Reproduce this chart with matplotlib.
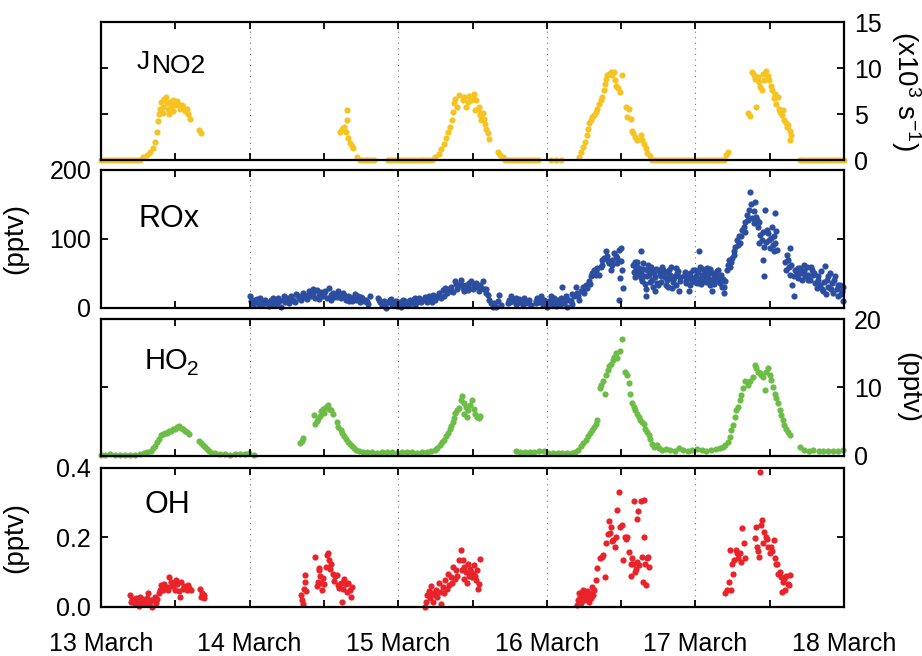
import numpy as np
import matplotlib
matplotlib.use('Agg')
from matplotlib import pyplot as plt

plt.rcParams['font.family'] = ['Liberation Sans', 'DejaVu Sans']
plt.rcParams['mathtext.fontset'] = 'custom'
plt.rcParams['mathtext.rm'] = 'Liberation Sans'
plt.rcParams['mathtext.it'] = 'Liberation Sans:italic'
plt.rcParams['mathtext.bf'] = 'Liberation Sans:bold'

# time axis is day of March (13.0 = 13 March 00:00)

# J(NO2) in 1e-3 s-1
j_day = [13.00, 13.02, 13.04, 13.06, 13.08, 13.10, 13.12, 13.14, 13.16, 13.18, 13.20, 13.22, 13.24, 13.26,
         13.286, 13.308, 13.330, 13.348, 13.364, 13.375, 13.382, 13.388, 13.397, 13.406, 13.415, 13.420, 13.426,
         13.437, 13.442, 13.453, 13.458, 13.464, 13.475, 13.482, 13.487, 13.498, 13.509, 13.520, 13.531, 13.542,
         13.554, 13.565, 13.576, 13.587, 13.598, 13.661, 13.670,
         14.611, 14.620, 14.636, 14.647, 14.654, 14.658, 14.665, 14.676, 14.687, 14.696,
         14.725, 14.74, 14.76, 14.78, 14.80, 14.82, 14.84,
         14.93, 14.95, 14.97, 14.99, 15.01, 15.03, 15.05, 15.07, 15.09, 15.11, 15.13, 15.15, 15.17, 15.19, 15.21, 15.23,
         15.250, 15.272, 15.290, 15.306, 15.321, 15.335, 15.348, 15.361, 15.366, 15.373, 15.384, 15.395, 15.406,
         15.434, 15.445, 15.456, 15.468, 15.479, 15.490, 15.501, 15.512, 15.517, 15.524, 15.535, 15.546, 15.553,
         15.557, 15.568, 15.575, 15.584, 15.593, 15.602, 15.613,
         15.669, 15.687, 15.702, 15.72, 15.74, 15.76, 15.78, 15.80, 15.82, 15.84, 15.86, 15.88, 15.90, 15.92, 15.94,
         16.027, 16.060, 16.094,
         16.217, 16.233, 16.246, 16.257, 16.268, 16.277, 16.284, 16.295, 16.306, 16.318, 16.329, 16.340, 16.351,
         16.362, 16.374, 16.385, 16.394, 16.400, 16.407, 16.418, 16.429, 16.441, 16.452, 16.459, 16.468, 16.479,
         16.492, 16.508, 16.530, 16.541, 16.553, 16.564, 16.570, 16.582, 16.595, 16.608, 16.631, 16.642, 16.653,
         16.664, 16.676, 16.691,
         16.71, 16.73, 16.75, 16.77, 16.79, 16.81, 16.83, 16.85, 16.87, 16.89, 16.91, 16.93, 16.95, 16.97, 16.99,
         17.01, 17.03, 17.05, 17.07, 17.09, 17.11, 17.13, 17.15, 17.17, 17.19, 17.208, 17.217,
         17.351, 17.365, 17.381, 17.392, 17.403, 17.410, 17.418, 17.429, 17.436, 17.447, 17.454, 17.463, 17.477,
         17.485, 17.496, 17.508, 17.517, 17.526, 17.535, 17.544, 17.553, 17.562, 17.571, 17.580, 17.589, 17.598,
         17.607, 17.616, 17.625, 17.634, 17.643, 17.639,
         17.70, 17.72, 17.74, 17.76, 17.78, 17.80, 17.82, 17.84, 17.86, 17.88, 17.90, 17.92, 17.94, 17.96, 17.98, 18.00]
j_val = [0, 0, 0, 0, 0, 0, 0, 0, 0, 0, 0, 0, 0, 0,
         0.3, 0.5, 0.9, 1.3, 2.0, 3.0, 4.2, 5.0, 5.6, 6.3, 5.1, 5.8, 6.6,
         6.9, 6.2, 5.6, 5.0, 6.3, 5.9, 5.3, 6.5, 6.0, 6.4, 6.1, 5.5, 6.0,
         5.8, 5.3, 5.6, 5.0, 4.5, 3.3, 2.9,
         3.1, 3.4, 3.6, 3.0, 5.4, 4.3, 2.4, 1.9, 1.5, 1.3,
         0.3, 0, 0, 0, 0, 0, 0,
         0, 0, 0, 0, 0, 0, 0, 0, 0, 0, 0, 0, 0, 0, 0, 0,
         0.3, 0.7, 1.2, 1.8, 2.4, 3.0, 3.6, 4.3, 5.2, 6.2, 6.6, 5.8, 7.1,
         6.5, 6.9, 5.8, 6.3, 7.0, 6.5, 6.9, 7.2, 5.4, 6.5, 5.4, 5.8, 4.9,
         4.3, 5.1, 4.5, 3.9, 3.4, 2.9, 2.3,
         0.9, 0.6, 0.3, 0, 0, 0, 0, 0, 0, 0, 0, 0, 0, 0, 0,
         0, 0, 0,
         0.35, 0.9, 1.4, 2.0, 2.7, 3.4, 4.0, 4.3, 4.7, 4.9, 5.2, 5.6, 6.1,
         6.5, 6.9, 7.6, 8.3, 8.8, 9.2, 9.4, 9.6, 9.2, 9.6, 8.7, 8.1, 7.8,
         7.4, 9.2, 5.8, 4.7, 5.5, 4.5, 3.2, 2.9, 2.5, 2.2, 2.7, 2.2, 1.7,
         1.3, 0.8, 0.4,
         0, 0, 0, 0, 0, 0, 0, 0, 0, 0, 0, 0, 0, 0, 0,
         0, 0, 0, 0, 0, 0, 0, 0, 0, 0, 0.6, 0.9,
         5.1, 4.8, 9.6, 9.2, 8.8, 5.8, 9.0, 8.5, 7.9, 7.6, 9.4, 8.7, 9.7,
         9.1, 8.7, 8.1, 7.6, 6.7, 7.2, 6.1, 6.9, 5.6, 5.2, 4.9, 5.4, 4.3,
         4.0, 3.6, 3.8, 3.2, 2.7, 2.2,
         0, 0, 0, 0, 0, 0, 0, 0, 0, 0, 0, 0, 0, 0, 0, 0]

# ROx in pptv
rox_day = [14.004, 14.011, 14.022, 14.036, 14.049, 14.062, 14.076, 14.089, 14.103, 14.116, 14.129, 14.143, 14.156,
           14.170, 14.183, 14.196, 14.210, 14.223, 14.237, 14.250, 14.263, 14.277, 14.290, 14.304, 14.317, 14.330,
           14.344, 14.357, 14.371, 14.384, 14.397, 14.411, 14.424, 14.437, 14.451, 14.464, 14.478, 14.491, 14.504,
           14.518, 14.531, 14.545, 14.558, 14.571, 14.585, 14.598, 14.612, 14.625, 14.638, 14.652, 14.665, 14.678,
           14.692, 14.705, 14.719, 14.732, 14.745, 14.759, 14.772, 14.786, 14.799, 14.812,
           14.861, 14.875, 14.888, 14.902, 14.915, 14.928, 14.942, 14.955, 14.969, 14.982, 14.995, 15.009, 15.022,
           15.036, 15.049, 15.062, 15.076, 15.089, 15.103, 15.116, 15.129, 15.143, 15.156, 15.170, 15.183, 15.196,
           15.210, 15.223, 15.237, 15.250, 15.263, 15.277, 15.290, 15.304, 15.317, 15.330, 15.344, 15.357, 15.370,
           15.384, 15.397, 15.411,
           15.423, 15.434, 15.445, 15.456, 15.468, 15.479, 15.490, 15.501, 15.512, 15.524, 15.535, 15.546, 15.557,
           15.568, 15.580, 15.591, 15.602, 15.613, 15.624, 15.635, 15.647, 15.658, 15.669, 15.680, 15.691,
           15.736, 15.747, 15.758, 15.770, 15.781, 15.792, 15.803, 15.814, 15.825, 15.837, 15.848, 15.859, 15.870,
           15.881, 15.892,
           15.926, 15.937, 15.949, 15.960, 15.971, 15.982, 15.993, 16.004, 16.016, 16.027, 16.038, 16.049, 16.060,
           16.072, 16.083, 16.094, 16.105, 16.116, 16.128, 16.139, 16.150, 16.161, 16.172, 16.184, 16.195, 16.206,
           16.217, 16.228, 16.240, 16.251, 16.262, 16.273, 16.284, 16.295, 16.306, 16.318, 16.329, 16.340, 16.351,
           16.362, 16.374, 16.385, 16.396, 16.407, 16.418, 16.429, 16.441, 16.452, 16.463, 16.474, 16.486, 16.497,
           16.503, 16.492, 16.514, 16.486,
           16.582, 16.591, 16.600, 16.608, 16.617, 16.631, 16.631, 16.642, 16.649, 16.653, 16.664, 16.667, 16.676,
           16.687, 16.698, 16.709, 16.720, 16.731, 16.743, 16.754, 16.765, 16.776, 16.787, 16.799, 16.810, 16.821,
           16.832, 16.843, 16.855, 16.866, 16.877, 16.888, 16.899,
           16.922, 16.933, 16.944, 16.955, 16.966, 16.978, 16.989, 17.000, 17.011, 17.022, 17.033, 17.045, 17.056,
           17.067, 17.078, 17.089, 17.101, 17.112, 17.123, 17.134, 17.145, 17.157, 17.168, 17.179, 17.190, 17.201,
           17.212, 17.224, 17.235, 17.246, 17.257, 17.268, 17.280, 17.291, 17.302, 17.313, 17.324, 17.336, 17.347,
           17.358, 17.369, 17.380, 17.391, 17.403, 17.414, 17.421, 17.425, 17.436, 17.447, 17.454, 17.458, 17.463,
           17.470, 17.481, 17.492, 17.503, 17.515, 17.526, 17.537, 17.537, 17.548,
           17.604, 17.615, 17.626, 17.637, 17.637, 17.649, 17.660, 17.671, 17.682, 17.693, 17.704, 17.716, 17.727,
           17.738, 17.749, 17.760, 17.772, 17.783, 17.794, 17.805, 17.816, 17.827, 17.839, 17.850, 17.861, 17.872,
           17.883, 17.894, 17.906, 17.917, 17.928, 17.939, 17.950, 17.961, 17.973, 17.984, 17.995]
rox_val = [17, 10, 5, 8, 13, 4, 9, 6, 12, 7, 3, 11, 14,
           8, 5, 10, 2, 12, 9, 15, 7, 17, 12, 9, 19, 14,
           11, 22, 16, 13, 24, 18, 21, 15, 26, 19, 23, 17, 21,
           14, 29, 19, 22, 16, 20, 24, 14, 18, 19, 12, 17, 16,
           10, 15, 12, 18, 8, 14, 10, 12, 6, 17,
           15, 8, 5, 10, 0, 9, 12, 4, 7, 10, 3, 8, 2,
           6, 10, 4, 12, 7, 13, 5, 9, 14, 8, 11, 16, 9,
           17, 13, 19, 11, 16, 22, 15, 26, 29, 21, 27, 31, 23,
           39, 28, 33,
           41, 29, 24, 34, 31, 36, 39, 27, 34, 36, 31, 24, 29,
           39, 27, 22, 19, 12, 7, 2, 7, 2, 10, 19, 5,
           7, 12, 17, 10, 12, 6, 7, 13, 10, 5, 14, 8, 7,
           12, 5,
           7, 14, 9, 17, 5, 12, 7, 2, 10, 17, 6, 10, 3,
           12, 8, 14, 31, 7, 18, 2, 12, 10, 20, 17, 31, 22,
           12, 24, 31, 27, 34, 29, 39, 46, 51, 55, 53, 58, 48,
           60, 70, 72, 82, 75, 65, 55, 70, 80, 75, 65, 84, 87,
           55, 43, 29, 12,
           63, 67, 58, 60, 55, 82, 51, 39, 65, 46, 27, 17, 55,
           48, 60, 41, 51, 24, 36, 55, 46, 60, 51, 34, 41, 55,
           48, 29, 43, 58, 51, 24, 39,
           46, 36, 43, 24, 51, 41, 41, 55, 36, 83, 60, 48, 41,
           53, 58, 51, 34, 24, 46, 39, 53, 43, 41, 31, 22, 39,
           55, 70, 60, 72, 77, 89, 99, 104, 94, 113, 118, 125, 135,
           142, 168, 130, 123, 154, 128, 118, 94, 106, 99, 70, 89, 47,
           142, 113, 99, 87, 118, 104, 138, 94, 84,
           67, 77, 60, 87, 48, 34, 18, 55, 51, 43, 58, 41, 53,
           46, 60, 48, 41, 55, 48, 36, 29, 46, 34, 27, 24, 61,
           41, 31, 51, 36, 22, 46, 27, 17, 34, 24, 10]
# second pass of ROx points read in between the ones above
rox_day2 = [14.030, 14.070, 14.110, 14.150, 14.190, 14.230, 14.270, 14.310, 14.350, 14.390, 14.430, 14.470, 14.510,
            14.550, 14.590, 14.630, 14.670, 14.710, 14.750, 14.790, 14.870, 14.910, 14.950, 14.990, 15.030, 15.070,
            15.110, 15.150, 15.190, 15.230, 15.270, 15.310, 15.350, 15.390, 15.430, 15.470, 15.510, 15.550, 15.590,
            15.750, 15.790, 15.830, 15.930, 15.970, 16.010, 16.050, 16.090, 16.130, 16.170, 16.210, 16.250, 16.290,
            16.330, 16.370, 16.410, 16.440, 16.470, 16.500,
            16.586, 16.595, 16.604, 16.613, 16.622, 16.636, 16.645, 16.658, 16.671, 16.680, 16.692, 16.703, 16.714,
            16.725, 16.737, 16.748, 16.759, 16.770, 16.781, 16.793, 16.804, 16.815, 16.826, 16.837, 16.849, 16.860,
            16.871, 16.882, 16.893,
            16.927, 16.938, 16.950, 16.961, 16.972, 16.983, 16.995, 17.006, 17.017, 17.028, 17.039, 17.050, 17.061,
            17.072, 17.084, 17.095, 17.106, 17.117, 17.128, 17.140, 17.151, 17.162, 17.173, 17.184, 17.195,
            17.218, 17.240, 17.262, 17.285, 17.307, 17.330, 17.352, 17.375, 17.397, 17.408, 17.430, 17.452, 17.475,
            17.487, 17.509, 17.520, 17.531, 17.543,
            17.610, 17.621, 17.643, 17.666, 17.688, 17.710, 17.733, 17.755, 17.777, 17.800, 17.822, 17.845, 17.867,
            17.878, 17.889, 17.911, 17.934, 17.956, 17.978, 17.990]
rox_val2 = [12, 15, 9, 6, 14, 18, 10, 20, 17, 19, 27, 13, 25,
            12, 16, 22, 10, 20, 16, 9, 12, 6, 13, 8, 11, 6,
            15, 10, 12, 8, 18, 18, 25, 35, 34, 26, 31, 33, 28,
            8, 14, 9, 10, 11, 8, 14, 5, 11, 6, 18, 22, 35,
            48, 62, 68, 62, 72, 68,
            52, 45, 66, 49, 58, 44, 57, 35, 47, 62, 38, 53, 30,
            45, 57, 33, 49, 38, 55, 45, 52, 31, 44, 60, 37, 46,
            34, 54, 45,
            52, 39, 48, 33, 45, 55, 38, 47, 52, 42, 35, 56, 46,
            38, 44, 57, 40, 50, 35, 47, 55, 36, 48, 42, 30,
            62, 66, 82, 92, 105, 110, 128, 150, 140, 132, 125, 110, 95,
            108, 101, 92, 82, 112,
            55, 70, 62, 47, 58, 50, 62, 40, 60, 50, 40, 54, 38,
            20, 47, 28, 40, 33, 20, 30]

# HO2 in pptv
ho2_day = [13.000, 13.029, 13.062, 13.096, 13.129, 13.163, 13.196, 13.230, 13.263, 13.290, 13.312, 13.335, 13.353,
           13.366, 13.379, 13.393, 13.406, 13.420, 13.433, 13.446, 13.460, 13.473, 13.487, 13.500, 13.513, 13.527,
           13.540, 13.554, 13.567, 13.580, 13.594,
           13.661, 13.674, 13.687, 13.701, 13.714, 13.727, 13.745, 13.766, 13.799, 13.833, 13.866, 13.900, 13.933,
           13.966, 13.995, 14.027,
           14.341, 14.350, 14.359, 14.435, 14.442, 14.451, 14.462, 14.473, 14.482, 14.491, 14.502, 14.513, 14.525,
           14.536, 14.547, 14.558,
           14.585, 14.598, 14.612, 14.625, 14.638, 14.652, 14.665, 14.678, 14.692, 14.705, 14.719, 14.737, 14.763,
           14.792, 14.826, 14.859, 14.893, 14.926, 14.960, 14.993, 15.027, 15.060, 15.094, 15.127, 15.161, 15.194,
           15.223, 15.246, 15.263, 15.281, 15.295, 15.308, 15.321, 15.335, 15.348, 15.357, 15.366, 15.375, 15.384,
           15.395, 15.406,
           15.423, 15.432, 15.441, 15.445, 15.454, 15.463, 15.472, 15.485, 15.499, 15.508, 15.519, 15.530, 15.541,
           15.553,
           15.792, 15.821, 15.852, 15.884, 15.915, 15.946, 15.978, 16.009, 16.040, 16.072, 16.103, 16.134, 16.166,
           16.192, 16.210, 16.228, 16.246, 16.262, 16.277, 16.291, 16.304, 16.318, 16.329, 16.340, 16.358, 16.367,
           16.380, 16.391, 16.400, 16.409, 16.421, 16.432, 16.443, 16.454, 16.465, 16.474, 16.490, 16.508, 16.528,
           16.539, 16.550, 16.561, 16.573, 16.584, 16.595, 16.606, 16.617, 16.629, 16.640, 16.651, 16.662, 16.673,
           16.685, 16.696, 16.707, 16.720, 16.738, 16.756, 16.778, 16.805, 16.832, 16.859, 16.888, 16.917, 16.948,
           16.980, 17.011, 17.042, 17.074, 17.105, 17.136, 17.163, 17.186, 17.201, 17.217, 17.230, 17.241, 17.253,
           17.264, 17.275, 17.286, 17.298, 17.309, 17.320, 17.331, 17.351, 17.369, 17.385, 17.398, 17.409, 17.420,
           17.432, 17.443, 17.454, 17.465, 17.476, 17.488, 17.499, 17.510, 17.521, 17.532, 17.544, 17.555, 17.566,
           17.577, 17.588, 17.599, 17.611, 17.622, 17.633,
           17.705, 17.727, 17.761, 17.794, 17.828, 17.861, 17.895, 17.928, 17.962, 17.995]
ho2_val = [0.1, 0.2, 0.25, 0.2, 0.1, 0.15, 0.1, 0.2, 0.3, 0.4, 0.6, 0.8, 1.1,
           1.5, 2.0, 2.5, 3.0, 3.2, 3.3, 3.4, 3.6, 3.7, 3.9, 4.0, 4.2, 4.4,
           4.1, 3.9, 3.7, 3.5, 3.2,
           2.2, 1.9, 1.6, 1.3, 1.0, 0.8, 0.5, 0.4, 0.3, 0.25, 0.2, 0.3, 0.25,
           0.3, 0.4, 0.2,
           1.9, 2.2, 2.6, 6.0, 4.6, 5.1, 5.4, 5.8, 6.5, 6.8, 6.3, 7.1, 7.4,
           6.9, 6.7, 6.2,
           4.9, 4.3, 3.8, 3.3, 2.9, 2.5, 2.1, 1.7, 1.4, 1.1, 0.9, 0.7, 0.6,
           0.55, 0.6, 0.5, 0.6, 0.55, 0.6, 0.5, 0.6, 0.55, 0.6, 0.5, 0.55, 0.6,
           0.7, 0.9, 1.2, 1.6, 2.0, 2.4, 2.9, 3.3, 3.9, 4.4, 4.9, 5.5, 6.3,
           6.7, 7.0,
           8.2, 8.7, 7.7, 6.2, 7.2, 5.7, 6.7, 7.4, 8.2, 6.9, 6.2, 5.7, 5.5,
           5.9,
           0.8, 0.6, 0.6, 0.55, 0.65, 0.7, 0.7, 0.5, 0.4, 0.4, 0.45, 0.4, 0.5,
           0.6, 0.9, 1.4, 1.9, 2.4, 2.9, 3.3, 3.8, 4.2, 4.6, 5.2, 9.9, 10.4,
           10.9, 9.1, 11.8, 12.6, 13.1, 13.5, 14.0, 14.5, 15.0, 14.3, 15.3, 17.1, 12.3,
           11.8, 10.6, 9.1, 7.7, 7.2, 6.7, 6.2, 5.7, 5.2, 5.0, 4.7, 4.0, 3.5,
           3.0, 2.5, 1.8, 1.3, 1.6, 1.1, 0.9, 1.0, 0.9, 0.8, 1.2, 0.9, 0.8,
           0.9, 1.0, 0.9, 0.8, 0.9, 1.0, 1.1, 1.3, 1.6, 2.1, 2.8, 3.8, 4.5,
           5.7, 6.7, 7.2, 8.2, 8.9, 9.9, 10.9, 10.4, 11.0, 11.6, 13.3, 12.8, 12.3,
           12.1, 11.8, 11.6, 9.6, 12.3, 12.8, 11.8, 11.1, 10.1, 9.1, 8.4, 7.7, 6.7,
           6.0, 5.2, 4.5, 4.0, 3.5, 3.0,
           1.3, 0.9, 0.8, 0.9, 0.7, 0.8, 0.7, 0.8, 0.7, 0.9]

# OH in pptv
oh_day = [13.196, 13.203, 13.210, 13.219, 13.228, 13.237, 13.246, 13.254, 13.263, 13.272, 13.281, 13.290, 13.299,
          13.308, 13.317, 13.326, 13.335, 13.344, 13.353, 13.362, 13.371, 13.379,
          13.388, 13.397, 13.406, 13.415, 13.424, 13.433, 13.442, 13.451, 13.460, 13.469, 13.478, 13.487, 13.496,
          13.504, 13.513, 13.522, 13.531, 13.540, 13.549, 13.558, 13.567, 13.576, 13.585, 13.594, 13.603,
          13.665, 13.672, 13.681, 13.690, 13.696,
          14.346, 14.353, 14.359, 14.366, 14.371, 14.375, 14.382, 14.442, 14.451, 14.457, 14.464, 14.469, 14.476,
          14.482, 14.489, 14.496, 14.504, 14.513, 14.520, 14.527, 14.534, 14.543, 14.549, 14.558, 14.567, 14.576,
          14.585, 14.594, 14.603, 14.612, 14.620, 14.629, 14.638, 14.647, 14.656, 14.665, 14.674, 14.683, 14.692,
          15.183, 15.190, 15.196, 15.205, 15.212, 15.221, 15.228, 15.237, 15.246, 15.254, 15.263, 15.272, 15.281,
          15.290, 15.299, 15.308, 15.317, 15.326, 15.335, 15.344, 15.353, 15.362, 15.370, 15.379, 15.388, 15.397,
          15.406, 15.423, 15.427, 15.434, 15.441, 15.445, 15.454, 15.461, 15.468, 15.474, 15.481, 15.490, 15.497,
          15.501, 15.508, 15.515, 15.521, 15.528, 15.535, 15.541, 15.548,
          16.206, 16.212, 16.219, 16.226, 16.233, 16.239, 16.246, 16.253, 16.259, 16.266, 16.273, 16.280, 16.286,
          16.293, 16.300, 16.306, 16.313, 16.320, 16.329, 16.340, 16.358, 16.369, 16.380, 16.389, 16.400, 16.409,
          16.416, 16.425, 16.434, 16.441, 16.447, 16.456, 16.463, 16.472, 16.483, 16.492, 16.503, 16.514, 16.523,
          16.532, 16.541, 16.553, 16.564, 16.568, 16.575, 16.582, 16.586, 16.591, 16.598, 16.604, 16.608, 16.615,
          16.622, 16.631, 16.638, 16.645, 16.651, 16.653, 16.660, 16.669, 16.676, 16.682, 16.689,
          17.201, 17.212, 17.224, 17.230, 17.239, 17.246, 17.253, 17.262, 17.271, 17.280, 17.289, 17.298, 17.307,
          17.315, 17.324, 17.331, 17.400, 17.407, 17.414, 17.421, 17.427, 17.436, 17.441, 17.447, 17.454, 17.463,
          17.472, 17.481, 17.490, 17.499, 17.508, 17.517, 17.526, 17.532, 17.539, 17.548, 17.557, 17.566, 17.575,
          17.582, 17.588, 17.597, 17.604, 17.611, 17.620, 17.629, 17.637]
oh_val = [0.034, 0.015, 0.024, 0.020, 0.008, 0.025, 0.012, 0.004, 0.029, 0.015, 0.022, 0.010, 0.018,
          0.027, 0.039, 0.009, 0.020, 0.000, 0.020, 0.030, 0.012, 0.024,
          0.039, 0.048, 0.063, 0.050, 0.067, 0.055, 0.058, 0.048, 0.087, 0.072, 0.060, 0.062, 0.050,
          0.077, 0.067, 0.045, 0.029, 0.072, 0.052, 0.060, 0.055, 0.048, 0.062, 0.055, 0.050,
          0.053, 0.029, 0.039, 0.025, 0.034,
          0.034, 0.019, 0.010, 0.053, 0.072, 0.092, 0.045, 0.145, 0.060, 0.072, 0.106, 0.111, 0.090,
          0.070, 0.050, 0.082, 0.065, 0.116, 0.150, 0.154, 0.135, 0.110, 0.125, 0.096, 0.075, 0.090,
          0.092, 0.063, 0.055, 0.070, 0.014, 0.053, 0.080, 0.065, 0.043, 0.068, 0.050, 0.029, 0.058,
          0.000, 0.015, 0.035, 0.045, 0.025, 0.060, 0.040, 0.015, 0.035, 0.048, 0.030, 0.068, 0.043,
          0.010, 0.058, 0.040, 0.077, 0.052, 0.096, 0.062, 0.085, 0.070, 0.116, 0.080, 0.105, 0.090,
          0.135, 0.164, 0.106, 0.135, 0.080, 0.115, 0.100, 0.070, 0.125, 0.090, 0.110, 0.100, 0.085,
          0.096, 0.120, 0.090, 0.077, 0.105, 0.053, 0.065, 0.137,
          0.005, 0.020, 0.040, 0.028, 0.012, 0.035, 0.050, 0.020, 0.038, 0.025, 0.045, 0.030, 0.015,
          0.040, 0.025, 0.058, 0.035, 0.050, 0.077, 0.111, 0.140, 0.145, 0.149, 0.087, 0.183, 0.210,
          0.246, 0.212, 0.231, 0.190, 0.193, 0.173, 0.200, 0.278, 0.331, 0.230, 0.236, 0.135, 0.202,
          0.195, 0.200, 0.159, 0.125, 0.090, 0.140, 0.125, 0.304, 0.100, 0.110, 0.253, 0.130, 0.275,
          0.120, 0.304, 0.145, 0.072, 0.308, 0.200, 0.125, 0.063, 0.140, 0.145, 0.115,
          0.039, 0.048, 0.072, 0.164, 0.048, 0.125, 0.096, 0.135, 0.165, 0.155, 0.140, 0.154, 0.130,
          0.228, 0.185, 0.140, 0.198, 0.231, 0.173, 0.160, 0.145, 0.387, 0.235, 0.251, 0.183, 0.217,
          0.200, 0.195, 0.173, 0.155, 0.172, 0.160, 0.193, 0.140, 0.125, 0.125, 0.096, 0.100, 0.085,
          0.043, 0.072, 0.080, 0.050, 0.090, 0.065, 0.063, 0.092]

day_ticks = [13, 13.5, 14, 14.5, 15, 15.5, 16, 16.5, 17, 17.5, 18]
day_labels = ['13 March', '', '14 March', '', '15 March', '', '16 March', '', '17 March', '', '18 March']
midnights = [14, 15, 16, 17]

fig = plt.figure(figsize=(9.22, 6.56), dpi=100)

left, width = 0.1095, 0.806
ax1 = fig.add_axes([left, 0.756, width, 0.2104])
ax2 = fig.add_axes([left, 0.5305, width, 0.2104])
ax3 = fig.add_axes([left, 0.3049, width, 0.2088])
ax4 = fig.add_axes([left, 0.0747, width, 0.212])

for ax in [ax1, ax2, ax3, ax4]:
    ax.set_xlim(13, 18)
    ax.set_xticks(day_ticks)
    ax.tick_params(direction='in', top=True, bottom=True, left=True, right=True,
                   length=5, width=1.3, labelsize=18)
    ax.tick_params(axis='y', pad=7)
    for d in midnights:
        ax.axvline(d, color='#777777', ls=(0, (1, 4)), lw=0.8, zorder=0)
    for s in ax.spines.values():
        s.set_linewidth(1.6)
    if ax is not ax4:
        ax.tick_params(labelbottom=False)

msize = 20

# J(NO2)
ax1.scatter(j_day, j_val, s=msize, color='#F5C423', linewidths=0, clip_on=False, zorder=1)
ax1.set_ylim(0, 15)
ax1.set_yticks([0, 5, 10, 15])
ax1.tick_params(labelleft=False, labelright=True)
ax1.yaxis.set_label_position('right')
ax1.set_ylabel(r'(x10$^\mathregular{3}$ s$^\mathregular{-1}$)', fontsize=20, rotation=270, va='center')
ax1.yaxis.set_label_coords(1.083, 0.5)
ax1.text(0.048, 0.659, 'J', transform=ax1.transAxes, fontsize=19)
ax1.text(0.069, 0.628, 'NO2', transform=ax1.transAxes, fontsize=19)

# ROx
ax2.scatter(rox_day + rox_day2, rox_val + rox_val2, s=msize, color='#2C4EA0', linewidths=0,
            clip_on=False, zorder=1)
ax2.set_ylim(0, 200)
ax2.set_yticks([0, 100, 200])
ax2.set_ylabel('(pptv)', fontsize=20)
ax2.yaxis.set_label_coords(-0.098, 0.5)
ax2.text(0.051, 0.587, 'ROx', transform=ax2.transAxes, fontsize=22)

# HO2
ax3.scatter(ho2_day, ho2_val, s=msize, color='#6CBD45', linewidths=0, clip_on=False, zorder=1)
ax3.set_ylim(0, 20)
ax3.set_yticks([0, 10, 20])
ax3.tick_params(labelleft=False, labelright=True)
ax3.yaxis.set_label_position('right')
ax3.set_ylabel('(pptv)', fontsize=20, rotation=270, va='center')
ax3.yaxis.set_label_coords(1.086, 0.5)
ax3.text(0.059, 0.635, 'HO', transform=ax3.transAxes, fontsize=21)
ax3.text(0.116, 0.591, '2', transform=ax3.transAxes, fontsize=15)

# OH
ax4.scatter(oh_day, oh_val, s=msize, color='#E8232A', linewidths=0, clip_on=False, zorder=1)
ax4.set_ylim(0, 0.4)
ax4.set_yticks([0, 0.2, 0.4])
ax4.set_yticklabels(['0.0', '0.2', '0.4'])
ax4.set_ylabel('(pptv)', fontsize=20)
ax4.yaxis.set_label_coords(-0.098, 0.5)
ax4.text(0.058, 0.676, 'OH', transform=ax4.transAxes, fontsize=22)
ax4.set_xticklabels(day_labels)
ax4.tick_params(axis='x', pad=18)

plt.savefig('out.png', dpi=100)
